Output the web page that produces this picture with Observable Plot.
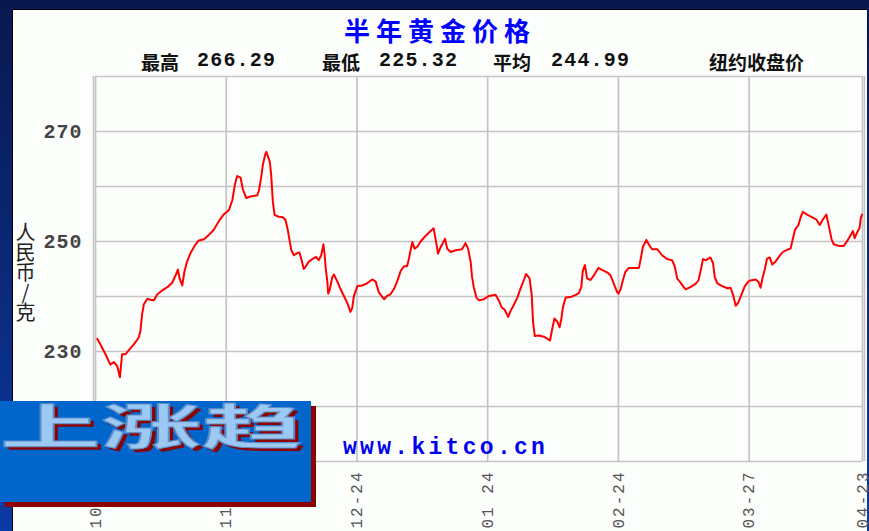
<!DOCTYPE html>
<html>
<head>
<meta charset="utf-8">
<script src="https://cdn.jsdelivr.net/npm/d3@7"></script>
<script src="https://cdn.jsdelivr.net/npm/@observablehq/plot@0.6"></script>
<style>
  html, body { margin: 0; padding: 0; }
  body { width: 869px; height: 531px; overflow: hidden; position: relative;
         background: linear-gradient(to bottom, #08184f 0%, #0b2a7a 55%, #0a3aa6 100%); }
  #panel { position: absolute; left: 12px; top: 9px; width: 854px; height: 522px;
           background: #fcfefc; border-top: 1px solid #000; border-left: 1px solid #000; }
  #chart { position: absolute; left: 0; top: 0; }
  .t { position: absolute; white-space: nowrap; line-height: 1; }
  #title { left: 344px; top: 11px; font: 700 26px "Noto Sans CJK SC"; color: #0000ff; letter-spacing: 6px; }
  .stat { top: 48px; font: 700 19px "Noto Sans CJK SC"; color: #111; }
  .num { top: 49px; font: 700 20px "Liberation Mono", monospace; color: #111; letter-spacing: 1.2px; }
  #ylab { left: 15px; top: 222px; font: 400 20px "Noto Sans CJK SC"; color: #222;
          writing-mode: vertical-rl; text-orientation: upright; line-height: 1; }
  #kitco { left: 343px; top: 435px; font: 700 23px "Liberation Mono", monospace; color: #0000ee; letter-spacing: 3.3px; }
  #box { position: absolute; left: 0; top: 401px; width: 311px; height: 101px; background: #0066cc;
         box-shadow: 5px 5px 0 #8c0000; overflow: hidden; }
  #up { position: absolute; left: 0; top: -2px; font: 700 48px "Noto Sans CJK SC"; color: #9cc8f4;
        transform-origin: 0 0; transform: scaleX(2.1); white-space: nowrap;
        text-shadow: 2px 3px 0 #8c0000; -webkit-text-stroke: 1px #5f8fc8; line-height: 1; }
  svg g[aria-label^="y-axis"] text { font: 700 20px "Liberation Mono", monospace; fill: #444; letter-spacing: 1px; }
  svg g[aria-label^="x-axis"] text { font: 400 16px "Liberation Mono", monospace; fill: #555; letter-spacing: 2px; }
</style>
</head>
<body>
<div id="panel"></div>
<div id="chart"></div>
<div class="t" id="title">半年黄金价格</div>
<div class="t stat" style="left:141px">最高</div>
<div class="t num" style="left:197px">266.29</div>
<div class="t stat" style="left:322px">最低</div>
<div class="t num" style="left:379px">225.32</div>
<div class="t stat" style="left:493px">平均</div>
<div class="t num" style="left:551px">244.99</div>
<div class="t stat" style="left:709px">纽约收盘价</div>
<div class="t" id="ylab">人民币/克</div>
<div class="t" id="kitco">www.kitco.cn</div>
<div id="box"><div id="up">上涨趋</div></div>
<script>
// x position of each reading, in trading days from the first label
const days = [0.4,1.1,2.3,3.4,4.2,5.0,5.6,6.1,6.9,7.6,8.8,9.9,10.3,10.7,11.1,11.9,12.6,13.4,14.2,15.3,16.5,17.6,18.4,18.9,19.3,19.9,20.4,21.0,21.8,22.9,23.7,24.9,26.0,27.1,28.3,29.4,
30.6,31.4,32.0,32.5,33.3,33.8,34.6,35.6,37.1,37.5,38.0,38.4,38.9,39.2,39.6,40.0,40.3,40.7,41.1,42.1,43.0,43.6,44.1,44.5,44.9,45.5,46.3,46.8,47.3,47.8,48.2,48.9,49.9,50.6,51.2,51.8,52.3,52.6,52.8,53.2,53.4,53.8,54.3,54.7,55.5,56.2,57.0,57.8,58.5,58.9,59.3,60.1,
61.2,62.3,63.5,64.3,65.0,66.2,66.9,67.7,68.5,69.2,69.6,70.0,70.8,71.5,71.9,72.3,72.7,73.2,73.8,74.6,75.7,76.9,77.6,78.0,78.6,79.2,79.7,80.2,80.7,81.5,82.6,84.1,84.9,85.5,86.1,86.4,86.8,87.4,88.0,89.1,90.3,
91.8,92.6,93.2,93.9,94.7,95.2,96.0,96.8,97.5,98.3,98.8,99.6,100.1,100.4,100.8,101.7,102.9,103.7,104.3,104.8,105.3,106.0,106.5,106.9,107.3,107.9,109.0,110.2,110.9,111.5,111.8,112.3,112.8,113.6,114.4,115.4,116.3,117.4,118.2,118.9,119.7,
120.0,120.5,121.0,121.6,122.4,123.5,124.7,125.1,125.6,126.4,127.0,127.7,128.9,130.0,131.2,132.3,132.9,133.5,134.0,134.6,135.4,136.5,137.7,138.4,139.0,139.4,140.1,141.1,141.7,142.1,142.7,143.8,145.0,145.7,146.3,146.9,147.5,148.2,149.0,149.9,
150.3,151.5,152.2,152.6,153.1,153.6,154.1,154.7,155.3,156.0,156.8,157.6,158.7,159.5,159.9,160.5,161.3,161.8,162.3,163.3,164.5,165.4,166.2,166.9,167.7,168.3,168.9,169.4,170.6,171.7,172.5,173.3,173.8,174.2,174.8,175.3,175.6,175.9];
// gold price, RMB per gram
const prices = [232.3,231.3,229.5,227.6,228.1,227.3,225.3,229.5,229.5,230.2,231.3,232.5,233.7,236.8,238.6,239.6,239.4,239.3,240.4,241.1,241.7,242.5,243.9,244.9,243.3,242.0,244.5,246.3,247.9,249.4,250.2,250.4,251.2,252.1,253.7,254.9,
255.7,257.5,260.4,261.9,261.6,259.5,257.9,258.2,258.4,259.2,261.6,263.9,265.7,266.3,265.4,264.5,262.2,257.2,254.8,254.5,254.4,253.9,252.2,250.4,248.5,247.5,247.9,248.0,246.6,245.0,245.4,246.3,246.9,247.2,246.6,247.5,249.5,247.5,245.3,242.7,240.5,241.4,243.4,244.0,242.7,241.4,240.1,238.8,237.2,237.9,240.1,241.9,
242.0,242.4,243.1,242.7,240.8,239.5,240.1,240.4,241.4,242.7,243.6,244.6,245.5,245.5,246.8,248.4,249.9,248.7,249.0,250.0,251.0,251.9,252.4,250.6,247.8,249.0,249.7,250.5,248.7,248.1,248.4,248.6,249.7,248.7,246.2,243.6,241.7,239.8,239.3,239.5,240.1,
240.3,239.2,238.0,237.6,236.3,237.3,238.5,239.8,241.4,243.0,244.1,243.3,240.3,235.4,232.8,232.9,232.7,232.3,232.0,234.1,236.0,235.4,234.4,236.0,238.2,239.8,239.9,240.3,240.6,241.8,244.6,245.7,243.3,243.0,243.9,245.2,244.8,244.4,243.8,242.4,240.8,
240.5,241.3,242.9,244.5,245.2,245.2,245.2,246.8,249.0,250.3,249.4,248.6,248.6,247.5,246.8,246.6,245.5,243.2,242.8,242.1,241.3,241.7,242.3,243.0,245.2,246.8,246.6,247.1,246.1,243.5,242.4,241.9,241.5,241.6,240.3,238.3,238.9,240.3,241.9,242.8,
242.9,243.1,242.6,241.6,243.5,245.0,246.9,247.1,245.8,246.3,247.2,248.0,248.5,248.7,250.1,252.1,253.0,254.4,255.4,254.9,254.4,254.0,253.0,254.0,254.9,252.7,250.4,249.5,249.2,249.2,250.1,251.2,251.9,250.6,251.7,252.4,254.2,254.9];

const tickDays = [0, 30, 60, 90, 120, 150, 176];
const tickLabels = ["10-24", "11-24", "12-24", "01 24", "02-24", "03-27", "04-23"];
const yTicks = [230, 250, 270];
const yGrid = [210, 220, 230, 240, 250, 260, 270, 280];

const data = days.map((d, i) => ({day: d, price: prices[i]}));

const chart = Plot.plot({
  width: 869,
  height: 531,
  marginLeft: 95,
  marginRight: 7,
  marginTop: 76,
  marginBottom: 70,
  style: {background: "transparent", overflow: "visible"},
  x: {domain: [0, 176], ticks: tickDays, tickFormat: d => tickLabels[tickDays.indexOf(d)],
      tickRotate: -90, tickSize: 0, tickPadding: 9, label: null},
  y: {domain: [210, 280], ticks: yTicks, tickSize: 0, tickPadding: 13, label: null},
  marks: [
    Plot.ruleY(yGrid, {stroke: "#c4c4c4", strokeWidth: 1.7}),
    Plot.ruleX(tickDays, {stroke: "#c4c4c4", strokeWidth: 1.7}),
    Plot.ruleX([0], {stroke: "#c4c4c4", strokeWidth: 1.5, dx: -2}),
    Plot.ruleX([176], {stroke: "#c4c4c4", strokeWidth: 1.5, dx: 2}),
    Plot.line(data, {x: "day", y: "price", stroke: "#ff0000", strokeWidth: 2})
  ]
});
document.getElementById("chart").appendChild(chart);
</script>
</body>
</html>
